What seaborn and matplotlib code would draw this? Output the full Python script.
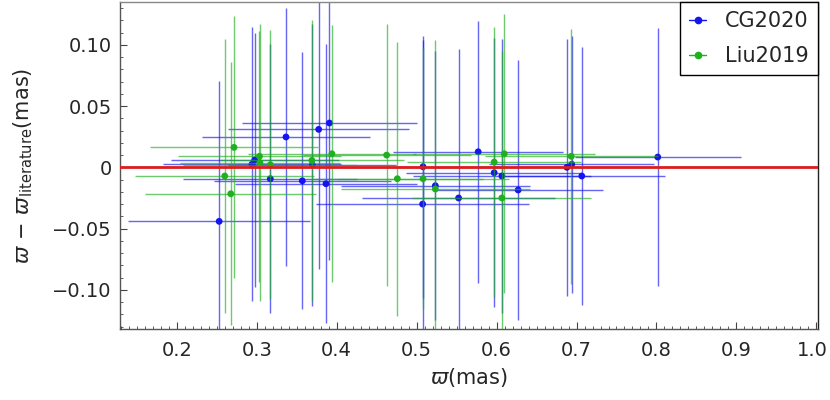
import numpy as np
import matplotlib
matplotlib.use("Agg")
import matplotlib.pyplot as plt
from matplotlib.lines import Line2D
from matplotlib.ticker import MultipleLocator, FuncFormatter
from matplotlib.transforms import ScaledTranslation
import pandas as pd
import seaborn as sns

# parallax (mas) and parallax difference to literature (mas), with errors
cg_plx = [0.391, 0.3775, 0.3366, 0.2975, 0.294, 0.3696, 0.317, 0.357, 0.3866, 0.253, 0.577,
          0.508, 0.597, 0.6066, 0.5234, 0.5525, 0.5075, 0.627, 0.8016, 0.694, 0.688, 0.7066]
cg_dplx = [0.0362, 0.031, 0.0248, 0.006, 0.0025, 0.002, -0.0093, -0.011, -0.0134, -0.0441, 0.0127,
           0.0005, -0.0044, -0.0071, -0.015, -0.025, -0.030, -0.0185, 0.0084, 0.0025, 0.0, -0.0071]
cg_xerr = [0.110, 0.113, 0.105, 0.105, 0.111, 0.105, 0.109, 0.111, 0.114, 0.114, 0.106,
           0.104, 0.110, 0.111, 0.118, 0.121, 0.133, 0.106, 0.104, 0.103, 0.105, 0.104]
cg_yerr = [0.112, 0.114, 0.105, 0.104, 0.112, 0.115, 0.110, 0.105, 0.114, 0.115, 0.107,
           0.107, 0.110, 0.112, 0.110, 0.122, 0.134, 0.106, 0.105, 0.105, 0.105, 0.105]

liu_plx = [0.2716, 0.3034, 0.394, 0.369, 0.304, 0.317, 0.26, 0.2675, 0.4625, 0.6096, 0.597,
           0.4759, 0.508, 0.5234, 0.6066, 0.6934]
liu_dplx = [0.0163, 0.009, 0.0111, 0.0057, 0.0038, 0.0021, -0.0071, -0.0216, 0.010, 0.0111, 0.0043,
            -0.0093, -0.0093, -0.0177, -0.025, 0.009]
liu_xerr = [0.1055, 0.102, 0.105, 0.115, 0.100, 0.109, 0.112, 0.107, 0.105, 0.114, 0.109,
            0.107, 0.107, 0.118, 0.112, 0.108]
liu_yerr = [0.107, 0.1025, 0.105, 0.115, 0.113, 0.110, 0.112, 0.1075, 0.107, 0.114, 0.110,
            0.112, 0.1065, 0.122, 0.120, 0.104]

cats = ["CG2020", "Liu2019"]
colors = {"CG2020": "#1414ee", "Liu2019": "#1fb01f"}

df = pd.concat([
    pd.DataFrame({"plx": cg_plx, "dplx": cg_dplx, "xerr": cg_xerr, "yerr": cg_yerr, "cat": "CG2020"}),
    pd.DataFrame({"plx": liu_plx, "dplx": liu_dplx, "xerr": liu_xerr, "yerr": liu_yerr, "cat": "Liu2019"}),
], ignore_index=True)

sns.set_theme(style="ticks")
plt.rcParams["font.family"] = ["DejaVu Sans"]
plt.rcParams["mathtext.fontset"] = "dejavusans"

fig = plt.figure(figsize=(8.3, 4.0), dpi=100)
ax = fig.add_axes([0.1446, 0.1775, 0.8409, 0.8175])

for i, c in enumerate(cats):
    d = df[df["cat"] == c]
    ax.errorbar(d["plx"], d["dplx"], xerr=d["xerr"], yerr=d["yerr"], fmt="none",
                ecolor=colors[c], elinewidth=1.0, capsize=0, alpha=0.65, zorder=2 + 2 * i)
    sns.scatterplot(data=d, x="plx", y="dplx", color=colors[c], s=24, edgecolor="none",
                    ax=ax, legend=False, zorder=3 + 2 * i)

ax.axhline(0, color="#dd1c1c", lw=2, zorder=10)

ax.set_xlim(0.129, 1.002)
ax.set_ylim(-0.132, 0.135)
ax.xaxis.set_major_locator(MultipleLocator(0.1))
ax.xaxis.set_minor_locator(MultipleLocator(0.01))
ax.yaxis.set_major_locator(MultipleLocator(0.05))
ax.yaxis.set_minor_locator(MultipleLocator(0.01))
ax.xaxis.set_major_formatter(FuncFormatter(lambda v, p: "%.1f" % v))
ax.yaxis.set_major_formatter(FuncFormatter(
    lambda v, p: "0" if abs(v) < 1e-9 else ("%.2f" % v).replace("-", "\u2212")))
ax.tick_params(which="both", direction="in", bottom=True, left=True, top=False, right=False,
               labelsize=14, color="#444444")
ax.tick_params(which="major", length=5, width=0.8)
ax.tick_params(axis="x", which="major", pad=9)
ax.tick_params(axis="y", which="major", pad=6)
ax.tick_params(which="minor", length=2.5, width=0.6)

for s in ["left", "bottom"]:
    ax.spines[s].set_color("#555555")
ax.spines["top"].set_color("#888888")
ax.spines["right"].set_color("#222222")
for s in ax.spines.values():
    s.set_visible(True)
    s.set_linewidth(1.0)

ax.set_xlabel(r"$\varpi$(mas)", fontsize=15, labelpad=4)
ax.set_ylabel(r"$\varpi\,-\,\varpi_{\rm literature}$(mas)", fontsize=15, labelpad=12)

handles = [Line2D([], [], color=colors[c], marker="o", ms=4.5, lw=1.0) for c in cats]
leg = ax.legend(handles, cats, loc="upper right", fontsize=15, frameon=True, fancybox=False,
                borderaxespad=0, handlelength=0.8, handletextpad=0.9, borderpad=0.45,
                labelspacing=0.7)
leg.get_frame().set_edgecolor("black")
leg.get_frame().set_linewidth(1.0)
leg.get_frame().set_alpha(1.0)
leg.set_zorder(20)

# nudge the "1.0" label a little left so it stays inside the figure
fig.canvas.draw()
for t in ax.xaxis.get_major_ticks():
    if abs(t.get_loc() - 1.0) < 1e-6:
        t.label1.set_transform(t.label1.get_transform()
                               + ScaledTranslation(-4 / 100, 0, fig.dpi_scale_trans))

fig.savefig("out.png", dpi=100)
